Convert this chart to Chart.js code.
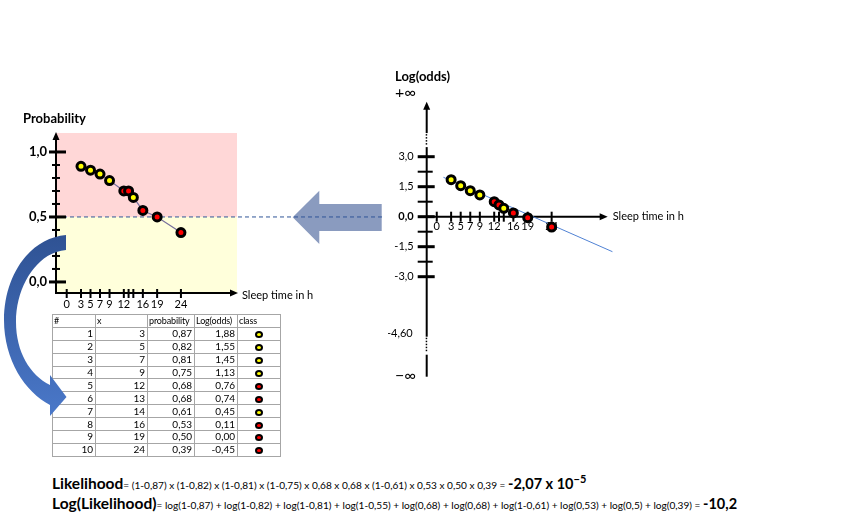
<!DOCTYPE html>
<html lang="en">
<head>
<meta charset="UTF-8">
<title>Probability vs log(odds) - likelihood</title>
<script src="https://cdn.jsdelivr.net/npm/chart.js@4.4.0/dist/chart.umd.min.js"></script>
<style>
    body { margin: 0; width: 844px; height: 520px; position: relative; overflow: hidden; background: #fff;
           font-family: Lato, "Open Sans", sans-serif; color: #000; }
    canvas, svg, table, .formula { position: absolute; }
    #dataTable { left: 52px; top: 314px; border-collapse: collapse; table-layout: fixed; width: 228px;
                 font-size: 10px; line-height: 11px; }
    #dataTable td { border: 1px solid #a6a6a6; padding: 0 2px; height: 11.9px; white-space: nowrap; overflow: hidden; }
    #dataTable tr.head td { font-size: 9px; letter-spacing: -0.15px; padding: 0 1px; }
    #dataTable td.num { text-align: right; }
    #dataTable td.cls { text-align: center; }
    .dot { display: inline-block; width: 4px; height: 3px; border: 2.5px solid #000; border-radius: 50%; vertical-align: middle; }
    .formula { left: 52px; white-space: nowrap; line-height: 20px; }
    .formula b { font-size: 14.5px; }
    .formula b.head { font-size: 15.5px; }
    .formula .small { font-size: 10.1px; }
    .formula sup { font-size: 11px; vertical-align: 6px; line-height: 0; }
</style>
</head>
<body>
<!-- big arrow pointing from the log(odds) chart back to the probability chart -->
<svg width="844" height="520" style="left:0;top:0">
    <polygon points="292.7,217.3 319.3,190.7 319.3,204 381.7,204 381.7,231 319.3,231 319.3,244" fill="#8a9bbf"/>
</svg>
<canvas id="probChart" width="390" height="215" style="left:0;top:100px"></canvas>
<canvas id="oddsChart" width="456" height="330" style="left:388px;top:60px"></canvas>
<table id="dataTable"></table>
<div class="formula" style="top:473px"><b class="head">Likelihood</b><span class="small">= (1-0,87) x (1-0,82) x (1-0,81) x (1-0,75) x 0,68 x 0,68 x (1-0,61) x 0,53 x 0,50 x 0,39 = </span><b>-2,07 x 10<sup>−5</sup></b></div>
<div class="formula" style="top:493px"><b class="head">Log(Likelihood)</b><span class="small">= log(1-0,87) + log(1-0,82) + log(1-0,81) + log(1-0,55) + log(0,68) + log(0,68) + log(1-0,61) + log(0,53) + log(0,5) + log(0,39) = </span><b>-10,2</b></div>
<!-- curved arrow from the chart down to the table -->
<svg width="844" height="520" style="left:0;top:0">
    <defs>
        <linearGradient id="curveFill" x1="0" y1="0" x2="0" y2="1">
            <stop offset="0" stop-color="#2f5293"/>
            <stop offset="1" stop-color="#4a78c9"/>
        </linearGradient>
    </defs>
    <path d="M66 235 C30 238 4 275 4 320 C4 360 25 392 50 405 L50 416 L66.5 397 L50 375 L50 385 C30 375 16 352 16 322 C16 285 38 252 66 250 Z" fill="url(#curveFill)"/>
</svg>

<script>
    // observations: sleep time and class
    const sleepHours = [3, 5, 7, 9, 12, 13, 14, 16, 19, 24];
    const pointClass = ['yellow', 'yellow', 'yellow', 'yellow', 'red', 'red', 'yellow', 'red', 'red', 'red'];

    // values as they are plotted in the two charts
    const plottedProb = [0.89, 0.86, 0.83, 0.78, 0.70, 0.70, 0.65, 0.55, 0.50, 0.38];
    const plottedLogOdds = [1.85, 1.55, 1.30, 1.09, 0.75, 0.59, 0.42, 0.19, -0.05, -0.52];

    // values as they are listed in the table
    const tableProb = [0.87, 0.82, 0.81, 0.75, 0.68, 0.68, 0.61, 0.53, 0.50, 0.39];
    const tableLogOdds = [1.88, 1.55, 1.45, 1.13, 0.76, 0.74, 0.45, 0.11, 0.00, -0.45];

    // fitted straight line in the log(odds) chart
    const fitLineX = [1.4, 36.7];
    const fitLineY = [1.97, -1.75];

    // ticks
    const xTickValues = [0, 3, 5, 7, 9, 12, 13, 14, 16, 19, 24];
    const xTickLabels = ['0', '3', '5', '7', '9', '12', '', '', '16', '19', '24'];
    const probTickValues = [1.0, 0.5, 0.0];
    const probTickLabels = ['1,0', '0,5', '0,0'];
    const probMinorTicks = [0.1, 0.2, 0.3, 0.4, 0.6, 0.7, 0.8, 0.9];
    const oddsTickValues = [3.0, 1.5, 0.0, -1.5, -3.0];
    const oddsTickLabels = ['3,0', '1,5', '0,0', '-1,5', '-3,0'];
    const oddsMinorTicks = [2.25, 0.75, -0.75, -2.25];
    // the log(odds) axis is broken (dotted) between these values
    const oddsAxisBreaks = [[3.48, 4.18], [-6.9, -6.0]];
    const oddsBreakLabel = '-4,60';
    const oddsBreakLabelAt = -5.85;

    const classColor = { yellow: '#ffff00', red: '#ff0000' };
    const FONT = 'Lato, "Open Sans", sans-serif';

    function arrowHead(ctx, x, y, dir) {
        ctx.beginPath();
        if (dir === 'up') {
            ctx.moveTo(x, y); ctx.lineTo(x - 3.5, y + 8); ctx.lineTo(x + 3.5, y + 8);
        } else {
            ctx.moveTo(x, y); ctx.lineTo(x - 8, y - 3.5); ctx.lineTo(x - 8, y + 3.5);
        }
        ctx.closePath();
        ctx.fill();
    }

    function hLine(ctx, x1, x2, y, w) {
        ctx.lineWidth = w;
        ctx.beginPath(); ctx.moveTo(x1, y); ctx.lineTo(x2, y); ctx.stroke();
    }

    function vLine(ctx, x, y1, y2, w) {
        ctx.lineWidth = w;
        ctx.beginPath(); ctx.moveTo(x, y1); ctx.lineTo(x, y2); ctx.stroke();
    }

    // background bands, dashed 0.5 line and hand-made axes of the probability chart
    const probAxesPlugin = {
        id: 'probAxes',
        beforeDatasetsDraw(chart) {
            const { ctx, chartArea: a, scales: { x, y } } = chart;
            const yHalf = y.getPixelForValue(0.5);
            ctx.save();
            ctx.fillStyle = '#ffd7d7';
            ctx.fillRect(a.left, a.top, a.right - a.left, yHalf - a.top);
            ctx.fillStyle = '#ffffdb';
            ctx.fillRect(a.left, yHalf, a.right - a.left, a.bottom - yHalf);

            // dashed threshold line running over to the other chart
            ctx.strokeStyle = '#2f5597';
            ctx.setLineDash([4, 3]);
            hLine(ctx, a.left, 385, yHalf, 1);
            ctx.setLineDash([]);

            ctx.strokeStyle = '#000';
            ctx.fillStyle = '#000';
            vLine(ctx, a.left, a.bottom + 1, a.top + 6, 2);
            arrowHead(ctx, a.left, a.top - 1, 'up');
            hLine(ctx, a.left - 1, a.right - 6, a.bottom, 2);
            arrowHead(ctx, a.right + 1, a.bottom, 'right');

            probMinorTicks.forEach(v => hLine(ctx, a.left - 4, a.left + 4, y.getPixelForValue(v), 2));
            ctx.font = 'bold 13px ' + FONT;
            ctx.textAlign = 'right';
            ctx.textBaseline = 'middle';
            probTickValues.forEach((v, i) => {
                const py = y.getPixelForValue(v);
                hLine(ctx, a.left - 7, a.left + 10, py, 3);
                ctx.fillText(probTickLabels[i], a.left - 9, py);
            });

            ctx.font = '11px ' + FONT;
            ctx.textAlign = 'center';
            xTickValues.forEach((v, i) => {
                const px = x.getPixelForValue(v);
                vLine(ctx, px, a.bottom - 4, a.bottom + 5, 2);
                ctx.fillText(xTickLabels[i], px, a.bottom + 11);
            });
            ctx.textAlign = 'left';
            ctx.fillText('Sleep time in h', a.right + 5, a.bottom + 2);

            ctx.font = 'bold 13px ' + FONT;
            ctx.fillText('Probability', 23, a.top - 14);
            ctx.restore();
        }
    };

    // hand-made axes of the log(odds) chart, with breaks towards +/- infinity
    const oddsAxesPlugin = {
        id: 'oddsAxes',
        beforeDatasetsDraw(chart) {
            const { ctx, chartArea: a, scales: { x, y } } = chart;
            const y0 = y.getPixelForValue(0);
            ctx.save();
            ctx.strokeStyle = '#000';
            ctx.fillStyle = '#000';

            // vertical axis in three pieces
            const b1 = oddsAxisBreaks[0], b2 = oddsAxisBreaks[1];
            vLine(ctx, a.left, y.getPixelForValue(b1[1]), a.top + 6, 2);
            arrowHead(ctx, a.left, a.top, 'up');
            vLine(ctx, a.left, y.getPixelForValue(b2[1]), y.getPixelForValue(b1[0]), 2);
            vLine(ctx, a.left, a.bottom, y.getPixelForValue(b2[0]), 2);
            oddsAxisBreaks.forEach(b => {
                const top = y.getPixelForValue(b[1]);
                const bottom = y.getPixelForValue(b[0]);
                for (let py = top + 1; py < bottom - 3; py += 3) {
                    ctx.fillRect(a.left - 1, py, 1.5, 1.5);
                }
            });

            oddsMinorTicks.forEach(v => hLine(ctx, a.left - 9, a.left + 6, y.getPixelForValue(v), 2));
            ctx.textAlign = 'right';
            ctx.textBaseline = 'middle';
            oddsTickValues.forEach((v, i) => {
                const py = y.getPixelForValue(v);
                hLine(ctx, a.left - 9, a.left + 8, py, 3);
                ctx.font = (v === 0 ? 'bold 11px ' : '11px ') + FONT;
                ctx.fillText(oddsTickLabels[i], a.left - 13, py);
            });
            ctx.font = '11px ' + FONT;
            ctx.fillText(oddsBreakLabel, a.left - 14, y.getPixelForValue(oddsBreakLabelAt));

            // horizontal axis
            hLine(ctx, a.left, a.right - 6, y0, 2);
            arrowHead(ctx, a.right + 1, y0, 'right');
            ctx.textAlign = 'center';
            xTickValues.forEach((v, i) => {
                const px = x.getPixelForValue(v);
                vLine(ctx, px, y0 - 5, y0 + 5, 2);
                ctx.fillText(xTickLabels[i], px, y0 + 10);
            });
            ctx.textAlign = 'left';
            ctx.fillText('Sleep time in h', a.right + 6, y0);

            ctx.font = 'bold 13px ' + FONT;
            ctx.fillText('Log(odds)', 7, 17);
            ctx.font = '16px ' + FONT;
            ctx.fillText('+\u221e', 7, 33);
            ctx.fillText('\u2212\u221e', 7, a.bottom - 1);
            ctx.restore();
        }
    };

    const pointColors = pointClass.map(c => classColor[c]);

    new Chart(document.getElementById('probChart'), {
        type: 'scatter',
        data: {
            datasets: [{
                data: sleepHours.map((h, i) => ({ x: h, y: plottedProb[i] })),
                showLine: true,
                borderColor: '#77709c',
                borderWidth: 1.2,
                pointBackgroundColor: pointColors,
                pointBorderColor: '#000',
                pointBorderWidth: 3,
                pointRadius: 4
            }]
        },
        options: {
            responsive: false,
            animation: false,
            layout: { padding: { left: 56, right: 153, top: 33, bottom: 22 } },
            scales: {
                x: { type: 'linear', min: -2.25, max: 35.78, display: false },
                y: { type: 'linear', min: -0.085, max: 1.146, display: false }
            },
            plugins: { legend: { display: false }, tooltip: { enabled: false } }
        },
        plugins: [probAxesPlugin]
    });

    new Chart(document.getElementById('oddsChart'), {
        type: 'scatter',
        data: {
            datasets: [{
                data: sleepHours.map((h, i) => ({ x: h, y: plottedLogOdds[i] })),
                pointBackgroundColor: pointColors,
                pointBorderColor: '#000',
                pointBorderWidth: 3,
                pointRadius: 4
            }, {
                data: fitLineX.map((v, i) => ({ x: v, y: fitLineY[i] })),
                showLine: true,
                borderColor: '#5082d4',
                borderWidth: 1,
                pointRadius: 0,
                clip: false
            }]
        },
        options: {
            responsive: false,
            animation: false,
            layout: { padding: { left: 38.7, right: 237.3, top: 41.7, bottom: 13.3 } },
            scales: {
                x: { type: 'linear', min: -2.1, max: 35.5, display: false },
                y: { type: 'linear', min: -8.0, max: 5.75, display: false }
            },
            plugins: { legend: { display: false }, tooltip: { enabled: false } }
        },
        plugins: [oddsAxesPlugin]
    });

    // data table under the probability chart
    const fmt = v => v.toFixed(2).replace('.', ',');
    const table = document.getElementById('dataTable');
    const colWidths = [43, 52, 47, 43, 43];
    table.innerHTML = '<colgroup>' + colWidths.map(w => `<col style="width:${w}px">`).join('') + '</colgroup>' +
        '<tr class="head"><td>#</td><td>x</td><td>probability</td><td>Log(odds)</td><td>class</td></tr>' +
        sleepHours.map((h, i) =>
            `<tr><td class="num">${i + 1}</td><td class="num">${h}</td><td class="num">${fmt(tableProb[i])}</td>` +
            `<td class="num">${fmt(tableLogOdds[i])}</td>` +
            `<td class="cls"><span class="dot" style="background:${classColor[pointClass[i]]}"></span></td></tr>`
        ).join('');
</script>
</body>
</html>
